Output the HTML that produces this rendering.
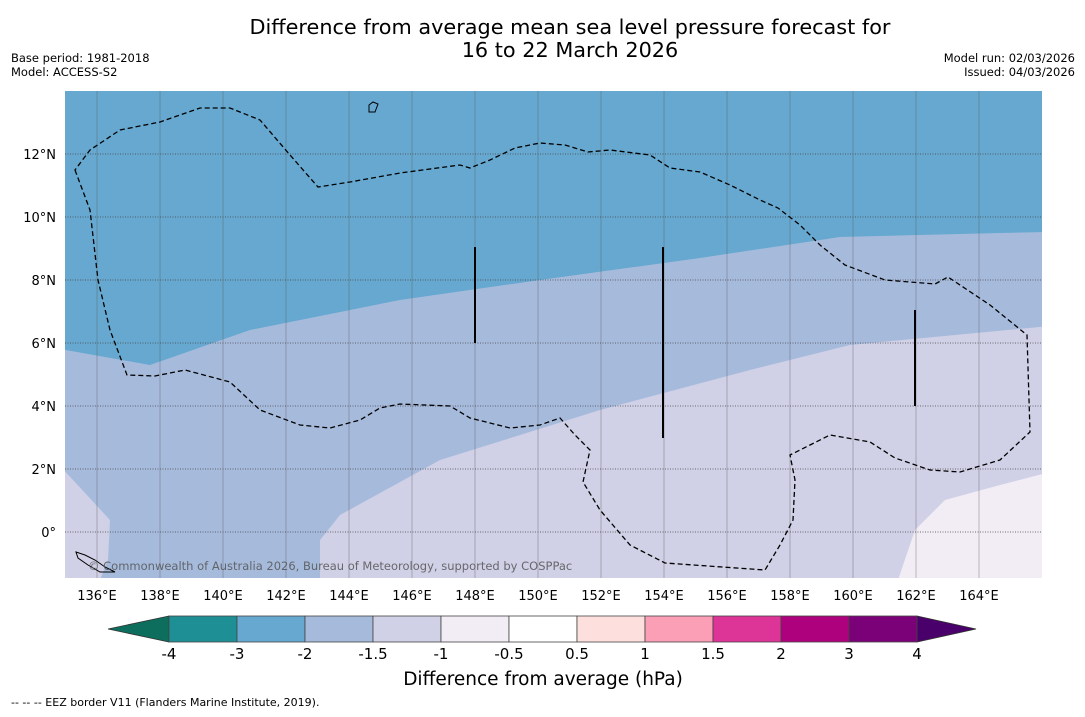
<!DOCTYPE html>
<html><head><meta charset="utf-8"><style>
body{margin:0;background:#fff;font-family:"DejaVu Sans","Liberation Sans",sans-serif;}
svg text{font-family:"DejaVu Sans","Liberation Sans",sans-serif;}
</style></head><body>
<svg id="c" width="1085" height="713" xmlns="http://www.w3.org/2000/svg">
<rect width="1085" height="713" fill="#fff"/>
<text x="570" y="34" font-size="20.8" text-anchor="middle">Difference from average mean sea level pressure forecast for</text>
<text x="570" y="57" font-size="20.8" text-anchor="middle">16 to 22 March 2026</text>
<text x="11" y="62" font-size="11.5">Base period: 1981-2018</text>
<text x="11" y="76" font-size="11.5">Model: ACCESS-S2</text>
<text x="1075" y="62" font-size="11.5" text-anchor="end">Model run: 02/03/2026</text>
<text x="1075" y="76" font-size="11.5" text-anchor="end">Issued: 04/03/2026</text>
<defs><clipPath id="mc"><rect x="65" y="91" width="977" height="487"/></clipPath></defs>
<g clip-path="url(#mc)">
<rect x="65" y="91" width="977" height="487" fill="#a6bbdc"/>
<path d="M60,91 L1050,91 L1050,232 L1000,233 L840,237 L700,258 L540,280 L400,300 L250,330 L150,365 L60,349 Z" fill="#66a8cf"/>
<path d="M60,466 L110,520 L108,560 L100,580 L60,580 Z" fill="#d0d0e6"/>
<path d="M320,580 L320,540 L340,515 L440,460 L600,410 L750,370 L850,345 L1050,326 L1050,580 Z" fill="#d0d0e6"/>
<path d="M898,580 L915,530 L945,500 L1000,485 L1050,472 L1050,580 Z" fill="#f2ecf5"/>
<g id="grid"></g>
<path d="M75,170 L90,210 L98,280 L110,330 L127,375 L155,376 L185,370 L230,382 L260,410 L300,425 L330,428 L360,420 L380,408 L400,404 L450,406 L470,418 L510,428 L540,425 L560,418 L575,435 L590,450 L583,482 L600,510 L630,545 L665,563 L765,570 L780,545 L793,520 L795,480 L790,455 L800,450 L830,435 L870,442 L895,458 L930,470 L960,472 L1000,460 L1030,432 L1027,335 L990,305 L948,277 L935,284 L885,280 L845,265 L820,245 L800,225 L778,208 L760,200 L730,185 L700,172 L670,168 L650,155 L610,150 L588,152 L565,145 L540,143 L515,148 L490,160 L470,168 L460,165 L400,173 L350,182 L318,187 L290,155 L260,120 L230,108 L200,108 L160,122 L120,130 L90,150 Z" fill="none" stroke="#000" stroke-width="1.3" stroke-dasharray="5,3"/>
<g stroke="#000" stroke-width="2">
<line x1="475" y1="247" x2="475" y2="343"/><line x1="663" y1="247" x2="663" y2="438"/><line x1="915" y1="310" x2="915" y2="406"/></g>
<path d="M76,552 L85,555 L95,560 L105,567 L115,572 L100,572 L88,565 L78,558 Z" fill="none" stroke="#000" stroke-width="1"/>
<path d="M369,105 L373,102 L378,104 L375,112 L369,112 Z" fill="none" stroke="#000" stroke-width="1"/>
<text x="88" y="570" font-size="11.5" fill="#555" opacity="0.85">© Commonwealth of Australia 2026, Bureau of Meteorology, supported by COSPPac</text>
</g>
<g id="xt"></g>
<g id="yt"></g>
<g id="cb"></g>
<text x="543" y="685" font-size="18.5" text-anchor="middle">Difference from average (hPa)</text>
<text x="11" y="706" font-size="11">--  --  -- EEZ border V11 (Flanders Marine Institute, 2019).</text>
</svg>
<script>
const lonTicks=[136,138,140,142,144,146,148,150,152,154,156,158,160,162,164];
const latTicks=[0,2,4,6,8,10,12];
const levels=["-4","-3","-2","-1.5","-1","-0.5","0.5","1","1.5","2","3","4"];
const colors=["#1f8f96","#66a8cf","#a6bbdc","#d0d0e6","#f2ecf5","#ffffff","#fde0dd","#fa9fb5","#dd3497","#ae017e","#7a0177"];
const NS="http://www.w3.org/2000/svg";
const X=lon=>65.5+(lon-135)*31.5, Y=lat=>91+(14-lat)*31.5;
function mk(t,a,p){const e=document.createElementNS(NS,t);for(const k in a)e.setAttribute(k,a[k]);p.appendChild(e);return e;}
const g=document.getElementById('grid'),xt=document.getElementById('xt'),yt=document.getElementById('yt'),cb=document.getElementById('cb');
lonTicks.forEach(l=>{const ln=mk('line',{x1:X(l),x2:X(l),y1:91,y2:578,stroke:'#555','stroke-width':0.6,opacity:0.6},g);

const t=mk('text',{x:X(l),y:600,'font-size':13,'text-anchor':'middle'},xt);t.textContent=l+'°E';
});
latTicks.forEach(l=>{const ln=mk('line',{x1:65,x2:1042,y1:Y(l),y2:Y(l),stroke:'#444','stroke-width':0.8,'stroke-dasharray':'1,1.5'},g);

const t=mk('text',{x:56,y:Y(l)+5,'font-size':13,'text-anchor':'end'},yt);t.textContent=(l===0?'0°':l+'°N');
});
const x0=169,w=68,y0=616,h=26;
const lt=mk('path',{d:`M${x0},${y0} L108,${y0+h/2} L${x0},${y0+h} Z`,fill:'#0d6e5e',stroke:'#333','stroke-width':0.8},cb);

const xe=x0+w*colors.length;
const rt=mk('path',{d:`M${xe},${y0} L976,${y0+h/2} L${xe},${y0+h} Z`,fill:'#49006a',stroke:'#333','stroke-width':0.8},cb);

colors.forEach((c,i)=>{const r=mk('rect',{x:x0+i*w,y:y0,width:w,height:h,fill:c,stroke:'#444','stroke-width':0.8},cb);
});
levels.forEach((s,i)=>{const t=mk('text',{x:x0+i*w,y:659,'font-size':15,'text-anchor':'middle'},cb);t.textContent=s;
});
</script>
</body></html>
